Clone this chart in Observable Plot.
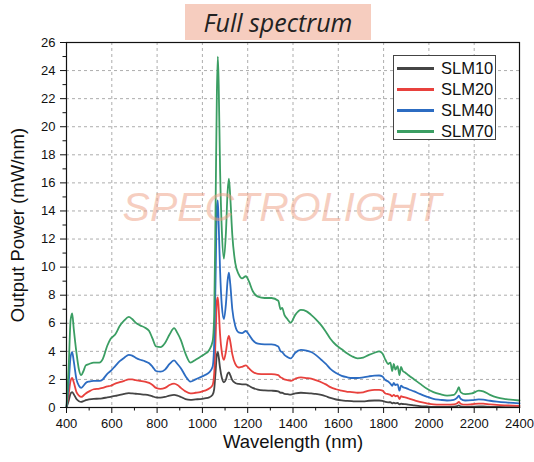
<!DOCTYPE html>
<html>
<head>
<meta charset="utf-8">
<script src="https://cdn.jsdelivr.net/npm/d3@7"></script>
<script src="https://cdn.jsdelivr.net/npm/@observablehq/plot@0.6"></script>
<style>
  body { margin: 0; background: white; }
  #wrap { position: relative; width: 534px; height: 462px; overflow: hidden; font-family: "Liberation Sans", Arial, sans-serif; }
  #title { position: absolute; z-index: 2; left: 185px; top: 4px; width: 186px; height: 36px; background: #f6cdbf;
           font-family: "Open Sans", "Noto Sans", sans-serif; font-style: italic; font-weight: 500; font-size: 25px;
           color: #222; text-align: center; line-height: 36px; }
  #chart { position: absolute; z-index: 1; left: 0; top: 34px; }
  #legend { position: absolute; z-index: 3; left: 393px; top: 55px; width: 103px; height: 85px; background: white;
            border: 1px solid #444; box-sizing: border-box; padding-top: 2px; }
  .row { display: flex; align-items: center; height: 21px; }
  .sw { width: 37px; height: 2.5px; margin-left: 3px; margin-right: 7px; }
  .lb { font-size: 16.5px; color: #111; }
</style>
</head>
<body>
<div id="wrap">
  <div id="title">Full spectrum</div>
  <div id="chart"></div>
  <div id="legend"></div>
</div>
<script>
const seriesNames = ["SLM10", "SLM20", "SLM40", "SLM70"];
const xTicks = [400, 600, 800, 1000, 1200, 1400, 1600, 1800, 2000, 2200, 2400];
const xMinor = [500, 700, 900, 1100, 1300, 1500, 1700, 1900, 2100, 2300];
const yTicks = [0, 2, 4, 6, 8, 10, 12, 14, 16, 18, 20, 22, 24, 26];
const yMinor = [1, 3, 5, 7, 9, 11, 13, 15, 17, 19, 21, 23, 25];

const wavelength = [400,410,418,425,432,444,455,465,475,485,500,520,545,560,580,595,615,635,655,675,690,705,725,745,765,780,795,815,835,855,875,890,905,925,947,970,990,1010,1030,1045,1052,1058,1064,1068,1072,1078,1086,1095,1104,1111,1117,1123,1132,1145,1160,1175,1192,1205,1222,1245,1275,1305,1335,1345,1352,1362,1375,1390,1410,1435,1460,1480,1500,1525,1545,1565,1590,1615,1640,1660,1685,1710,1735,1760,1780,1795,1808,1820,1830,1838,1845,1852,1862,1870,1877,1885,1895,1910,1935,1960,1990,2020,2050,2080,2110,2125,2132,2140,2160,2190,2220,2240,2270,2300,2340,2400];

const slm10 = [0,0.5,1.0,1.1,0.95,0.6,0.45,0.4,0.45,0.52,0.58,0.62,0.63,0.66,0.72,0.76,0.82,0.9,0.97,1.02,1.0,0.98,0.95,0.92,0.87,0.8,0.72,0.7,0.75,0.85,0.9,0.85,0.75,0.6,0.55,0.58,0.6,0.65,0.72,0.9,1.3,2.5,3.8,3.95,3.6,2.8,2.1,1.8,2.0,2.4,2.5,2.3,1.95,1.75,1.68,1.65,1.65,1.55,1.4,1.28,1.22,1.2,1.15,1.05,1.05,0.97,0.95,0.92,1.0,1.05,1.03,1.0,0.97,0.9,0.8,0.68,0.57,0.5,0.47,0.45,0.43,0.44,0.48,0.5,0.5,0.47,0.4,0.37,0.38,0.3,0.35,0.3,0.32,0.22,0.28,0.25,0.24,0.2,0.15,0.1,0.07,0.05,0.05,0.05,0.06,0.1,0.15,0.08,0.05,0.06,0.08,0.07,0.05,0.04,0.03,0.02];

const slm20 = [0,1.0,1.9,2.1,1.8,1.1,0.85,0.75,0.85,1.0,1.15,1.3,1.35,1.4,1.5,1.55,1.7,1.8,1.9,2.0,2.0,1.95,1.9,1.85,1.75,1.6,1.4,1.33,1.4,1.6,1.7,1.6,1.4,1.15,1.0,1.05,1.1,1.2,1.35,1.6,2.4,4.8,7.6,7.85,7.0,5.2,3.9,3.4,4.0,4.8,5.1,4.7,3.8,3.1,2.85,2.9,3.0,2.8,2.55,2.4,2.38,2.38,2.3,2.15,2.1,2.0,1.95,1.9,2.05,2.15,2.1,2.05,1.95,1.8,1.65,1.45,1.3,1.2,1.12,1.1,1.05,1.08,1.2,1.25,1.25,1.2,1.0,0.95,0.9,0.8,0.9,0.8,0.85,0.6,0.8,0.75,0.72,0.65,0.52,0.4,0.3,0.22,0.2,0.2,0.22,0.3,0.4,0.27,0.2,0.23,0.28,0.27,0.22,0.18,0.15,0.12];

const slm40 = [0,1.8,3.6,3.95,3.3,2.0,1.55,1.4,1.55,1.75,1.85,1.9,1.9,2.0,2.4,2.6,2.95,3.3,3.55,3.75,3.7,3.55,3.4,3.3,3.15,2.9,2.6,2.55,2.7,3.1,3.35,3.1,2.8,2.25,1.85,2.0,2.15,2.3,2.5,2.9,4.5,9.0,14.3,14.75,13.0,9.8,7.2,6.3,7.4,9.0,9.6,8.8,7.0,5.8,5.35,5.3,5.45,5.2,4.8,4.55,4.5,4.5,4.35,4.0,3.95,3.75,3.6,3.5,3.9,4.1,4.05,3.95,3.75,3.4,3.1,2.75,2.45,2.25,2.15,2.1,2.1,2.15,2.22,2.27,2.28,2.2,1.95,1.85,1.7,1.55,1.75,1.6,1.65,1.2,1.55,1.45,1.4,1.3,1.15,0.97,0.78,0.62,0.55,0.5,0.55,0.7,0.85,0.62,0.5,0.52,0.58,0.56,0.48,0.42,0.36,0.3];

const slm70 = [0,3.0,6.2,6.7,5.6,3.9,2.7,2.3,2.6,3.0,3.1,3.2,3.2,3.45,4.4,4.9,5.2,5.8,6.2,6.45,6.3,6.05,5.85,5.7,5.45,4.9,4.35,4.3,4.6,5.2,5.65,5.3,4.8,3.85,3.2,3.4,3.6,3.8,4.1,4.7,6.5,14.0,22.5,25.0,23.0,17.0,12.5,10.6,12.5,15.3,16.3,15.0,12.3,10.3,9.5,9.2,9.35,9.0,8.3,7.9,7.8,7.8,7.6,7.0,7.1,6.6,6.3,6.05,6.6,6.95,6.85,6.6,6.3,5.85,5.4,4.9,4.45,4.15,3.85,3.65,3.5,3.55,3.75,3.9,4.0,3.85,3.4,3.1,3.2,2.6,3.1,2.7,2.95,2.3,2.9,2.6,2.5,2.3,2.0,1.7,1.35,1.1,0.95,0.85,0.9,1.2,1.45,1.1,0.95,1.0,1.2,1.15,0.9,0.72,0.6,0.5];

const seriesValues = [slm10, slm20, slm40, slm70];
const colors = ["#454545", "#e8413d", "#2c6cc2", "#3b9e63"];

const rows = [];
seriesNames.forEach((name, k) => {
  wavelength.forEach((w, i) => rows.push({wl: w, v: seriesValues[k][i], s: name}));
});

const font = "'Liberation Sans', Arial, sans-serif";
const fmt = d => String(d);
const chart = Plot.plot({
  width: 534,
  height: 428,
  marginLeft: 66,
  marginRight: 15,
  marginTop: 8,
  marginBottom: 55,
  x: {domain: [400, 2400]},
  y: {domain: [0, 26]},
  color: {domain: seriesNames, range: colors},
  style: {fontFamily: font, background: "white", color: "#111", overflow: "visible"},
  marks: [
    Plot.gridX(xTicks, {stroke: "#999", strokeOpacity: 0.8, strokeDasharray: "3,3"}),
    Plot.gridY(yTicks, {stroke: "#999", strokeOpacity: 0.8, strokeDasharray: "3,3"}),
    Plot.line(rows, {x: "wl", y: "v", z: "s", stroke: "s", strokeWidth: 1.8, curve: "monotone-x"}),
    Plot.text(["SPECTROLIGHT"], {frameAnchor: "middle", dx: -11, dy: -17, fontSize: 41, fontStyle: "italic",
      fill: "#ee9d82", fillOpacity: 0.5, text: d => d}),
    Plot.frame({stroke: "#111", strokeWidth: 1.2}),
    Plot.axisX(xTicks, {tickSize: 6, tickPadding: 5, fontSize: 13, label: null, stroke: "#111", tickFormat: fmt}),
    Plot.axisX(xMinor, {tickSize: 3.5, text: null, label: null, stroke: "#111"}),
    Plot.axisY(yTicks, {tickSize: 6, tickPadding: 5, fontSize: 13, label: null, stroke: "#111", tickFormat: fmt}),
    Plot.axisY(yMinor, {tickSize: 3.5, text: null, label: null, stroke: "#111"}),
    Plot.text(["Output Power (mW/nm)"], {frameAnchor: "left", textAnchor: "middle", dx: -48, rotate: -90, fontSize: 18.5, text: d => d}),
    Plot.text(["Wavelength (nm)"], {frameAnchor: "bottom", dy: 40, fontSize: 18.5, text: d => d})
  ]
});
document.getElementById("chart").appendChild(chart);

const legend = document.getElementById("legend");
seriesNames.forEach((name, k) => {
  const row = document.createElement("div");
  row.className = "row";
  const sw = document.createElement("div");
  sw.className = "sw";
  sw.style.background = colors[k];
  const lb = document.createElement("span");
  lb.className = "lb";
  lb.textContent = name;
  row.appendChild(sw);
  row.appendChild(lb);
  legend.appendChild(row);
});
</script>
</body>
</html>
